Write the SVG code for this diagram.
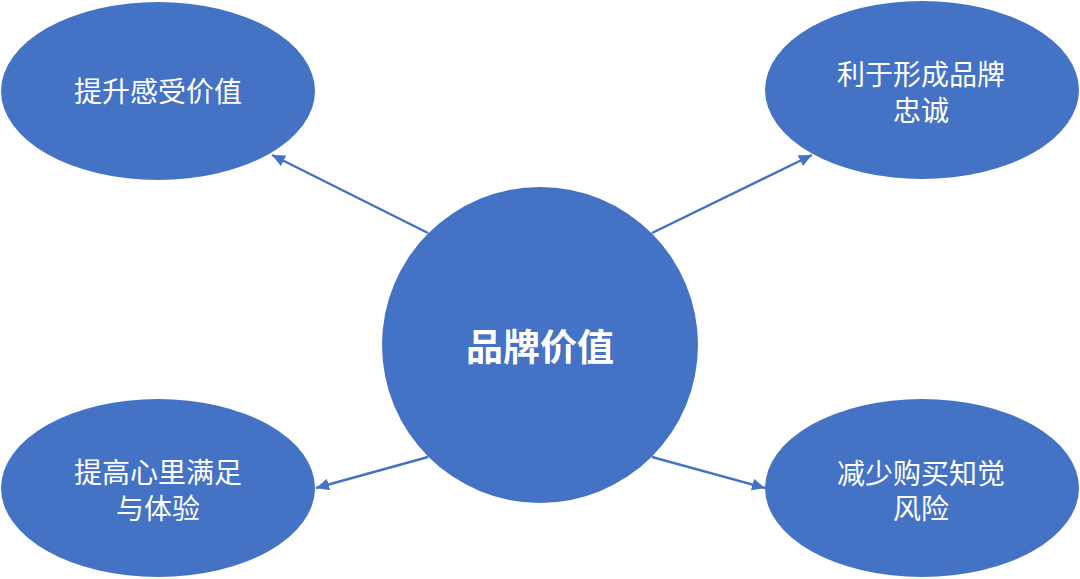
<svg xmlns="http://www.w3.org/2000/svg" width="1080" height="579" viewBox="0 0 1080 579">
  <style>
    .node { fill: #4472C4; }
    .lbl { fill: #FFFFFF; font-family: "Noto Sans CJK SC", "Microsoft YaHei", sans-serif; font-size: 28px; text-anchor: middle; dominant-baseline: central; }
    .main { font-size: 37px; font-weight: bold; }
    .conn { stroke: #4472C4; stroke-width: 2.5; fill: none; marker-end: url(#arr); }
  </style>
  <defs>
    <marker id="arr" markerUnits="userSpaceOnUse" markerWidth="14" markerHeight="12" refX="13" refY="6" orient="auto">
      <path d="M0,0 L13,6 L0,12 Z" fill="#4472C4"/>
    </marker>
  </defs>
  <rect width="1080" height="579" fill="#FFFFFF"/>
  <g id="connectors">
    <line class="conn" x1="428" y1="233" x2="272" y2="155"/>
    <line class="conn" x1="652" y1="233" x2="812" y2="155"/>
    <line class="conn" x1="428" y1="457" x2="316" y2="488"/>
    <line class="conn" x1="652" y1="457" x2="765" y2="488"/>
  </g>
  <g id="center">
    <circle class="node" cx="540" cy="345" r="158"/>
    <text class="lbl main" x="540" y="345">品牌价值</text>
  </g>
  <g id="top-left">
    <ellipse class="node" cx="158" cy="91" rx="157" ry="89"/>
    <text class="lbl" x="158" y="90">提升感受价值</text>
  </g>
  <g id="top-right">
    <ellipse class="node" cx="922" cy="90" rx="157" ry="89"/>
    <text class="lbl" x="921" y="73">利于形成品牌<tspan x="921" dy="36">忠诚</tspan></text>
  </g>
  <g id="bottom-left">
    <ellipse class="node" cx="158" cy="488" rx="157" ry="89"/>
    <text class="lbl" x="158" y="471">提高心里满足<tspan x="158" dy="36">与体验</tspan></text>
  </g>
  <g id="bottom-right">
    <ellipse class="node" cx="922" cy="488" rx="157" ry="89"/>
    <text class="lbl" x="921" y="472">减少购买知觉<tspan x="921" dy="35">风险</tspan></text>
  </g>
</svg>
